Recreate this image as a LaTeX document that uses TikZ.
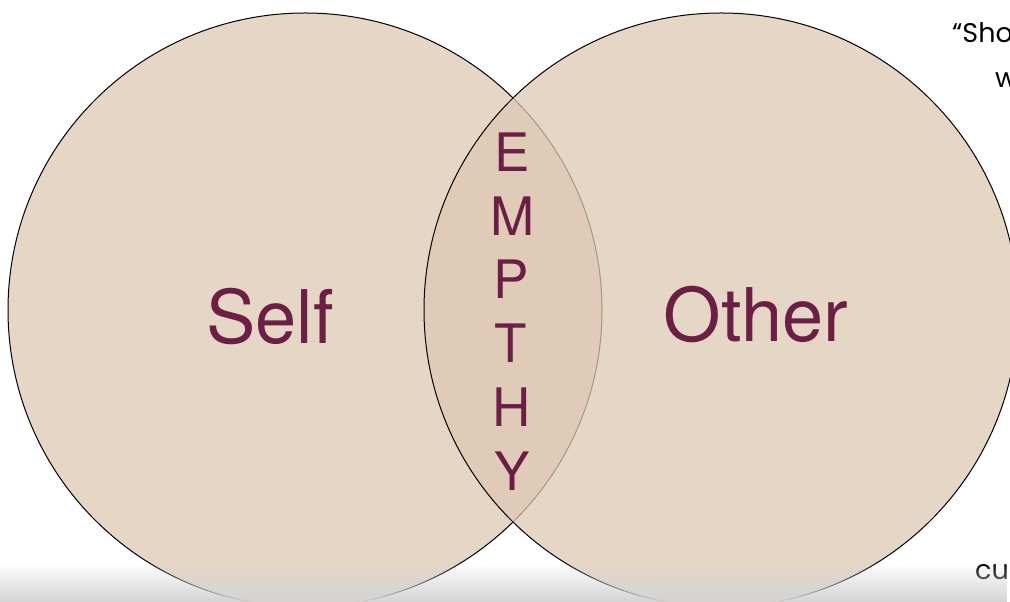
\documentclass[tikz,border=0pt]{standalone}
\usepackage{fontspec}
\setmainfont{TeX Gyre Heros}
\newfontfamily\popfont{Poppins}
\usetikzlibrary{fadings}
\definecolor{circfill}{RGB}{222,200,179}
\definecolor{labelcol}{RGB}{107,31,69}
\definecolor{shadowcol}{RGB}{212,212,212}
\tikzfading[name=shadefade, top color=transparent!100, bottom color=transparent!0]
\tikzset{
  vcirc/.style={draw=black, line width=1pt, fill=circfill, fill opacity=0.75},
  biglabel/.style={text=labelcol, font=\fontsize{74}{80}\selectfont, inner sep=0pt},
  letter/.style={text=labelcol, font=\fontsize{53}{58}\selectfont, inner sep=0pt, anchor=base},
  sidetext/.style={text=black, font=\popfont\fontsize{27}{32}\selectfont, inner sep=0pt, anchor=base west}
}
\begin{document}
\begin{tikzpicture}[x=1pt,y=1pt]
\useasboundingbox (0,0) rectangle (1010,602);
\clip (0,0) rectangle (1010,602);
% circles
\draw[vcirc] (305,292) circle (297);
\draw[vcirc] (721,292) circle (297);
% labels
\node[biglabel, anchor=base] (self) at (270,258) {Self};
\node[biglabel, anchor=base] (other) at (756,260) {Other};
\node[letter] (e1) at (512,430) {E};
\node[letter] (e2) at (513,366) {M};
\node[letter] (e3) at (511,303) {P};
\node[letter] (e4) at (511,239) {T};
\node[letter] (e5) at (512,175) {H};
\node[letter] (e6) at (512,111) {Y};
% cut-off side text
\node[sidetext] (sho) at (952,559) {“Sho};
\node[sidetext] (w) at (995,514) {w};
\node[sidetext] (cu) at (975,22) {cu};
% bottom shadow
\fill[shadowcol, path fading=shadefade] (0,0) rectangle (1010,40);
\end{tikzpicture}
\end{document}
